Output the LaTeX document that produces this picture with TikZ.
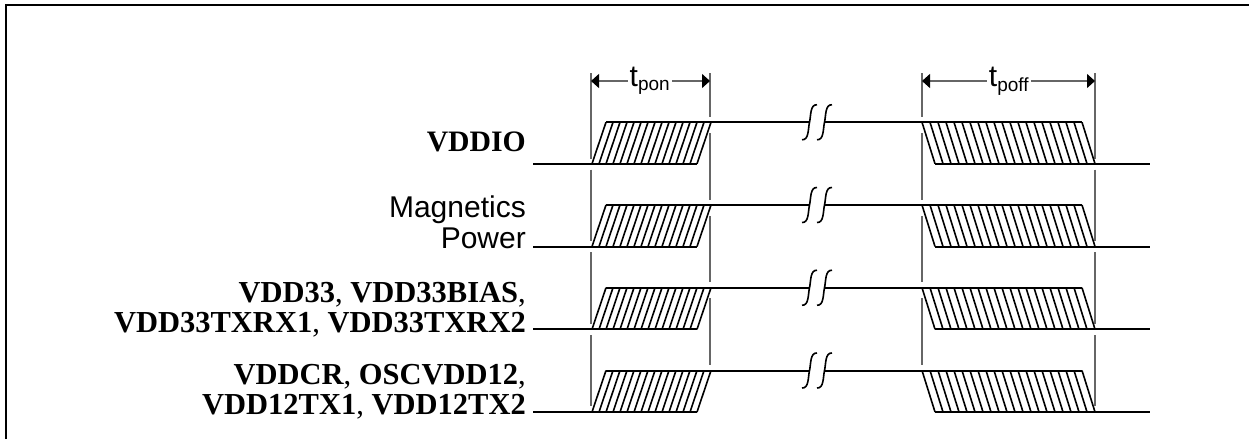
\documentclass[tikz,border=0pt]{standalone}
\usepackage{fontspec}
\setmainfont{Liberation Serif}
\setsansfont{Liberation Sans}
\usepackage{tikz}
\usetikzlibrary{arrows.meta}
\usetikzlibrary{calc}
\usetikzlibrary{positioning}

\begin{document}
\begin{tikzpicture}[x=1pt, y=-1pt]
	\tikzstyle{frame}=[line width=2pt, black];
	\tikzstyle{wave}=[line width=2pt, black];
	\tikzstyle{hatch}=[line width=1.6pt, black];
	\tikzstyle{guide}=[line width=1.2pt, black!60];
	\tikzstyle{dim}=[line width=1.2pt, black!60, -{Triangle[length=8pt, width=14pt, black]}];
	\tikzstyle{sig}=[anchor=base east, align=right, inner sep=0pt, font=\fontsize{30.5}{30}\selectfont];
	\tikzstyle{ttl}=[fill=white, inner xsep=2pt, inner ysep=0pt, font=\sffamily\fontsize{30}{30}\selectfont];
	\useasboundingbox (0,0) rectangle (1249,439);
	% outer frame, open on the right and at the bottom
	\coordinate (fa) at (6,439);
	\coordinate (fb) at (6,5);
	\coordinate (fc) at (1249,5);
	\draw[frame] (fa) -- (fb) -- (fc);
	% guide lines
	\foreach \x in {591,1095}
	{\draw[guide] (\x,73) -- (\x,159) (\x,169.5) -- (\x,241) (\x,252) -- (\x,324) (\x,335) -- (\x,406);}
	\foreach \x in {710,922}
	{\draw[guide] (\x,73) -- (\x,117) (\x,133) -- (\x,200) (\x,216) -- (\x,282) (\x,298) -- (\x,365);}
	% waveforms
	\foreach \i/\l in {1/163.75, 2/246.5, 3/329.25, 4/412}
	{
		\coordinate (st\i) at (533,\l);
		\coordinate (lb\i) at (697,\l);
		\coordinate (hl\i) at (606,\l-41.5);
		\coordinate (br\i) at (808.5,\l-41.5);
		\coordinate (bs\i) at (825,\l-41.5);
		\coordinate (hr\i) at (1082,\l-41.5);
		\coordinate (lf\i) at (935,\l);
		\coordinate (en\i) at (1150,\l);
		\draw[wave] (st\i) -- (lb\i);
		\draw[wave] (hl\i) -- (br\i);
		\draw[wave] (bs\i) -- (hr\i);
		\draw[wave] (lf\i) -- (en\i);
		\foreach \k in {0,1,...,15}
		{\draw[hatch] (592+\k*7,\l) -- (606+\k*7,\l-41.5);}
		\foreach \k in {0,1,...,20}
		{\draw[hatch] (922+\k*8,\l-41.5) -- (935+\k*8,\l);}
		\foreach \s in {802,817}
		{\draw[line width=1.6pt] (\s,\l-24) .. controls (\s+7,\l-23.5) and (\s+6,\l-35) .. (\s+7.5,\l-41.5) .. controls (\s+9,\l-48) and (\s+8,\l-59.5) .. (\s+15,\l-59);}
	}
	% signal names
	\node[sig, font=\fontsize{29.7}{30}\selectfont] (vddio) at (526,151) {\textbf{VDDIO}};
	\node[sig, font=\sffamily\fontsize{30}{31}\selectfont] (magn) at (526,248) {Magnetics\\Power};
	\node[sig] (vdd33) at (526,332) {\textbf{VDD33}, \textbf{VDD33BIAS},\\\textbf{VDD33TXRX1}, \textbf{VDD33TXRX2}};
	\node[sig] (vddcr) at (526,414) {\textbf{VDDCR}, \textbf{OSCVDD12},\\\textbf{VDD12TX1}, \textbf{VDD12TX2}};
	% timing marks
	\coordinate (ponl) at (591,81);
	\coordinate (ponr) at (710,81);
	\coordinate (poffl) at (922,81);
	\coordinate (poffr) at (1095,81);
	\node[ttl] (tpon) at (650,81) {t\textsubscript{\fontsize{19}{19}\selectfont pon}};
	\node[ttl] (tpoff) at (1009,81) {t\textsubscript{\fontsize{19}{19}\selectfont poff}};
	\draw[dim] (tpon.west |- ponl) -- (ponl);
	\draw[dim] (tpon.east |- ponr) -- (ponr);
	\draw[dim] (tpoff.west |- poffl) -- (poffl);
	\draw[dim] (tpoff.east |- poffr) -- (poffr);
\end{tikzpicture}
\end{document}
